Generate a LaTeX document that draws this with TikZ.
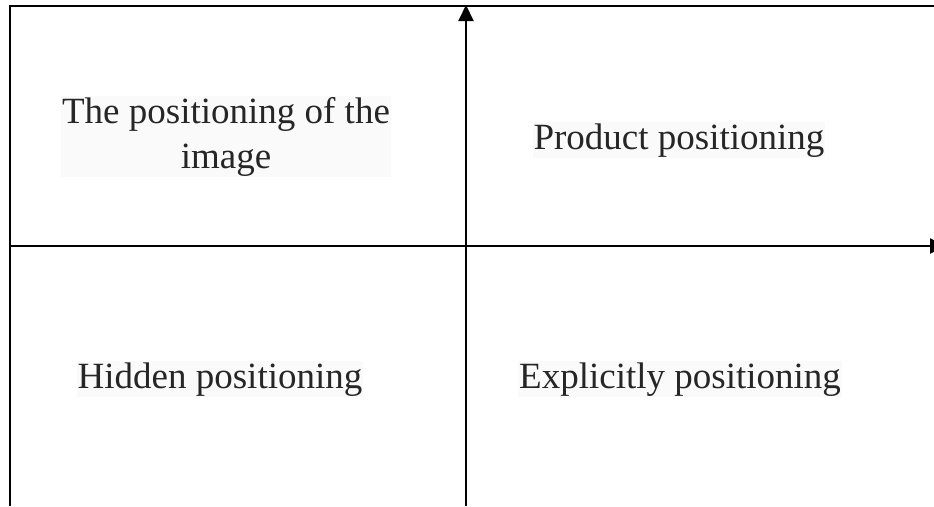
\documentclass[tikz,border=0pt]{standalone}
\usepackage{fontspec}
\setmainfont{Liberation Serif}
\usetikzlibrary{arrows.meta}
\definecolor{hl}{RGB}{250,250,250}
\begin{document}
\begin{tikzpicture}[x=1pt,y=-1pt,
  axisline/.style={line width=2pt,line cap=butt},
  axisarrow/.style={line width=2pt,-{Triangle[length=16pt,width=15pt]}},
  lab/.style={font=\fontsize{37}{45}\selectfont,text=black!85,fill=hl,inner sep=1pt,anchor=base,align=center}]
\useasboundingbox (0,0) rectangle (934,506);
\clip (0,0) rectangle (934,506);
% frame corners
\coordinate (tl) at (10,6);
\coordinate (tr) at (934,6);
\coordinate (bl) at (10,506);
\coordinate (vb) at (466,506);
\coordinate (vt) at (466,5);
\coordinate (hl0) at (10,246);
\coordinate (hr) at (946,246);
\draw[axisline] (bl) -- (tl) -- (tr);
\draw[axisarrow] (vb) -- (vt);
\draw[axisarrow] (hl0) -- (hr);
% labels
\node[lab] (img) at (226,168) {The positioning of the\\image};
\node[lab] (prod) at (679,149) {Product positioning};
\node[lab] (hid) at (220,388) {Hidden positioning};
\node[lab] (expl) at (680,388) {Explicitly positioning};
\end{tikzpicture}
\end{document}
